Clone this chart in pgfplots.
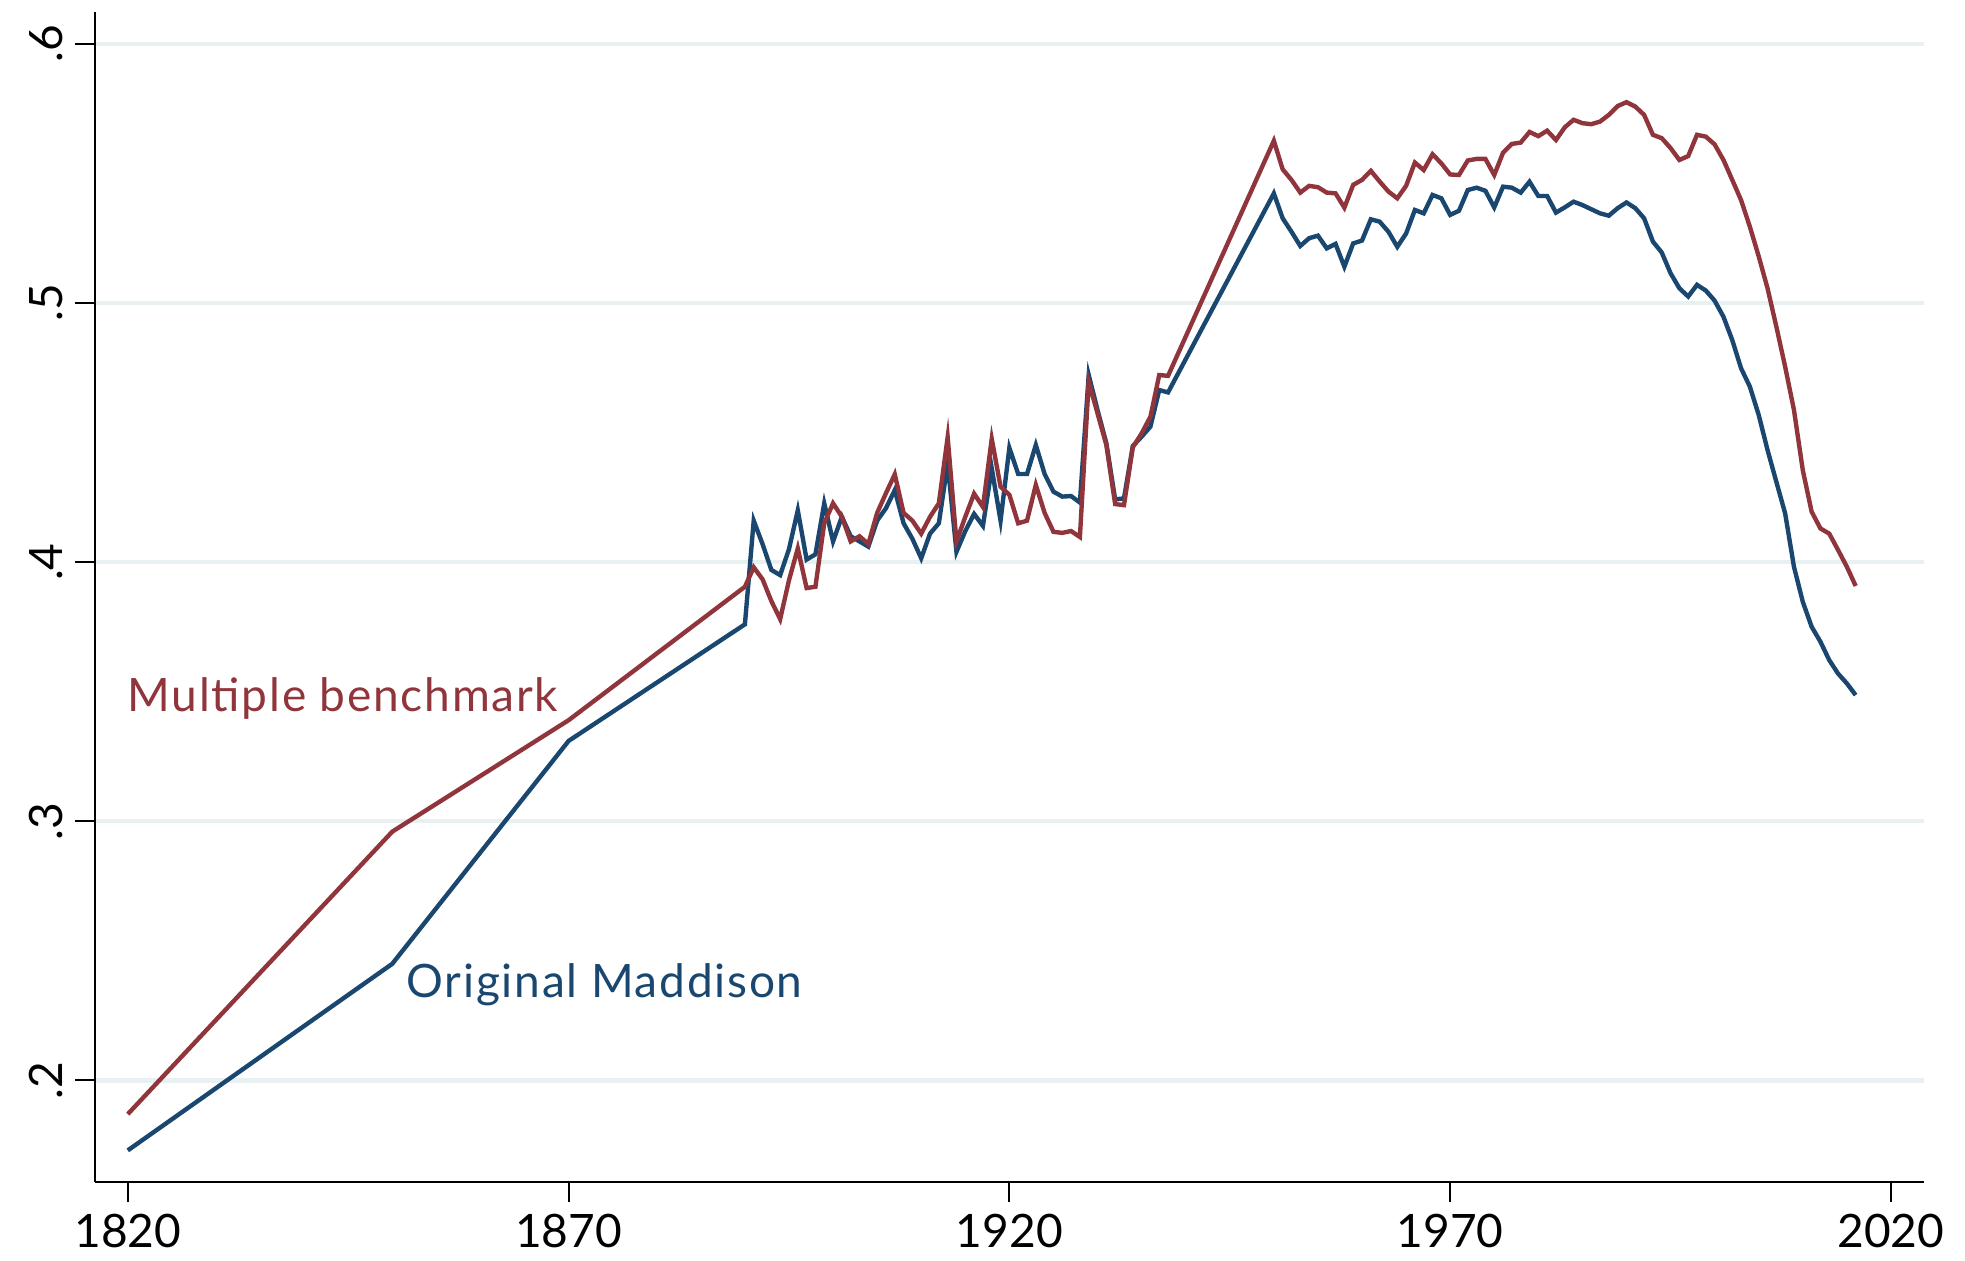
\documentclass[border=0pt]{standalone}
\usepackage{fontspec}
\setmainfont{Lato}
\newfontfamily\wide[LetterSpace=3.8]{Lato}
\usepackage{pgfplots}
\pgfplotsset{compat=1.18}
\definecolor{navyc}{RGB}{26,71,111}
\definecolor{maroonc}{RGB}{144,53,59}
\definecolor{gridc}{RGB}{232,240,242}
\newcommand{\lab}{\fontsize{13.1}{15}\selectfont}
\begin{document}
\begin{tikzpicture}
\begin{axis}[
  scale only axis,
  width=18.29cm, height=11.70cm,
  xmin=1816.28, xmax=2023.75,
  ymin=0.1608, ymax=0.6123,
  axis x line*=bottom, axis y line*=left,
  axis line style={black, line width=0.8pt},
  xtick={1820,1870,1920,1970,2020},
  xticklabels={1820,1870,1920,1970,2020},
  ytick={0.2,0.3,0.4,0.5,0.6},
  yticklabels={.2,.3,.4,.5,.6},
  tick align=outside,
  major tick length=0.2cm,
  tick style={black, line width=0.55pt},
  ticklabel style={font=\lab},
  yticklabel style={rotate=90, anchor=south},
  ymajorgrids,
  major grid style={color=gridc, line width=1.2pt},
  every axis plot/.append style={line width=1.25pt, no markers},
]
% Original Maddison
\addplot[color=navyc] coordinates {
(1820,0.173)(1850,0.245)(1870,0.331)(1890,0.376)
(1891,0.416)(1892,0.407)(1893,0.397)(1894,0.395)(1895,0.405)(1896,0.420)(1897,0.401)(1898,0.403)(1899,0.4227)(1900,0.408)
(1901,0.4175)(1902,0.410)(1903,0.408)(1904,0.406)(1905,0.416)(1906,0.4208)(1907,0.4278)(1908,0.415)(1909,0.409)(1910,0.4015)
(1911,0.411)(1912,0.415)(1913,0.4381)(1914,0.404)(1915,0.412)(1916,0.4186)(1917,0.414)(1918,0.4362)(1919,0.416)(1920,0.4441)
(1921,0.434)(1922,0.434)(1923,0.4452)(1924,0.434)(1925,0.4272)(1926,0.4253)(1927,0.4255)(1928,0.423)(1929,0.4722)(1930,0.4587)
(1931,0.4459)(1932,0.4242)(1933,0.4246)(1934,0.4448)(1935,0.4484)(1936,0.4523)(1937,0.4664)(1938,0.4655)
(1950,0.5423)(1951,0.5327)(1952,0.5275)(1953,0.522)(1954,0.525)(1955,0.526)(1956,0.5211)(1957,0.5228)(1958,0.514)(1959,0.523)
(1960,0.5241)(1961,0.5323)(1962,0.5314)(1963,0.5275)(1964,0.5217)(1965,0.5268)(1966,0.5359)(1967,0.5346)(1968,0.5417)(1969,0.5404)
(1970,0.534)(1971,0.5356)(1972,0.5436)(1973,0.5445)(1974,0.5433)(1975,0.5369)(1976,0.5449)(1977,0.5445)(1978,0.5426)(1979,0.5468)
(1980,0.5413)(1981,0.5413)(1982,0.5349)(1983,0.5369)(1984,0.5391)(1985,0.5378)(1986,0.5362)(1987,0.5346)(1988,0.5337)(1989,0.5366)
(1990,0.5388)(1991,0.5366)(1992,0.5327)(1993,0.5237)(1994,0.5195)(1995,0.5115)(1996,0.5057)(1997,0.5025)(1998,0.507)(1999,0.5048)
(2000,0.5009)(2001,0.4947)(2002,0.4857)(2003,0.4748)(2004,0.4677)(2005,0.4568)(2006,0.4433)(2007,0.431)(2008,0.4188)(2009,0.3982)
(2010,0.3847)(2011,0.3751)(2012,0.3693)(2013,0.3622)(2014,0.357)(2015,0.3532)(2016,0.3487)
};
% Multiple benchmark
\addplot[color=maroonc] coordinates {
(1820,0.187)(1850,0.296)(1870,0.339)(1890,0.3905)
(1891,0.398)(1892,0.3934)(1893,0.385)(1894,0.378)(1895,0.393)(1896,0.4053)(1897,0.390)(1898,0.3905)(1899,0.415)(1900,0.4227)
(1901,0.4175)(1902,0.408)(1903,0.410)(1904,0.407)(1905,0.419)(1906,0.4266)(1907,0.4339)(1908,0.419)(1909,0.416)(1910,0.411)
(1911,0.4175)(1912,0.4227)(1913,0.4482)(1914,0.408)(1915,0.4175)(1916,0.4264)(1917,0.4213)(1918,0.4476)(1919,0.4291)(1920,0.426)
(1921,0.415)(1922,0.416)(1923,0.4298)(1924,0.419)(1925,0.4117)(1926,0.4113)(1927,0.412)(1928,0.4097)(1929,0.4696)(1930,0.4574)
(1931,0.4452)(1932,0.4224)(1933,0.422)(1934,0.4443)(1935,0.4497)(1936,0.4561)(1937,0.4722)(1938,0.4719)
(1950,0.5626)(1951,0.5516)(1952,0.5475)(1953,0.5426)(1954,0.5452)(1955,0.5447)(1956,0.5426)(1957,0.5423)(1958,0.5368)(1959,0.5456)
(1960,0.5475)(1961,0.551)(1962,0.5469)(1963,0.543)(1964,0.5404)(1965,0.5452)(1966,0.5542)(1967,0.5513)(1968,0.5574)(1969,0.5539)
(1970,0.5496)(1971,0.5494)(1972,0.555)(1973,0.5556)(1974,0.5556)(1975,0.5494)(1976,0.558)(1977,0.5614)(1978,0.5619)(1979,0.566)
(1980,0.5644)(1981,0.5665)(1982,0.5629)(1983,0.5678)(1984,0.5707)(1985,0.5694)(1986,0.5690)(1987,0.5700)(1988,0.5726)(1989,0.576)
(1990,0.5775)(1991,0.5758)(1992,0.5726)(1993,0.5649)(1994,0.5636)(1995,0.5598)(1996,0.5552)(1997,0.5567)(1998,0.5649)(1999,0.5642)
(2000,0.5612)(2001,0.5552)(2002,0.5475)(2003,0.5397)(2004,0.5294)(2005,0.518)(2006,0.5057)(2007,0.4909)(2008,0.4754)(2009,0.4587)
(2010,0.4355)(2011,0.4195)(2012,0.413)(2013,0.411)(2014,0.4047)(2015,0.3982)(2016,0.3908)
};
\node[anchor=base west, inner sep=0pt, text=maroonc, font=\wide\lab] at (axis cs:1819.9,0.3423) {Multiple benchmark};
\node[anchor=base west, inner sep=0pt, text=navyc, font=\wide\lab] at (axis cs:1851.56,0.2319) {Original Maddison};
\end{axis}
\path (-0.95cm,-0.78cm) rectangle (18.70cm,11.82cm);
\end{tikzpicture}
\end{document}
